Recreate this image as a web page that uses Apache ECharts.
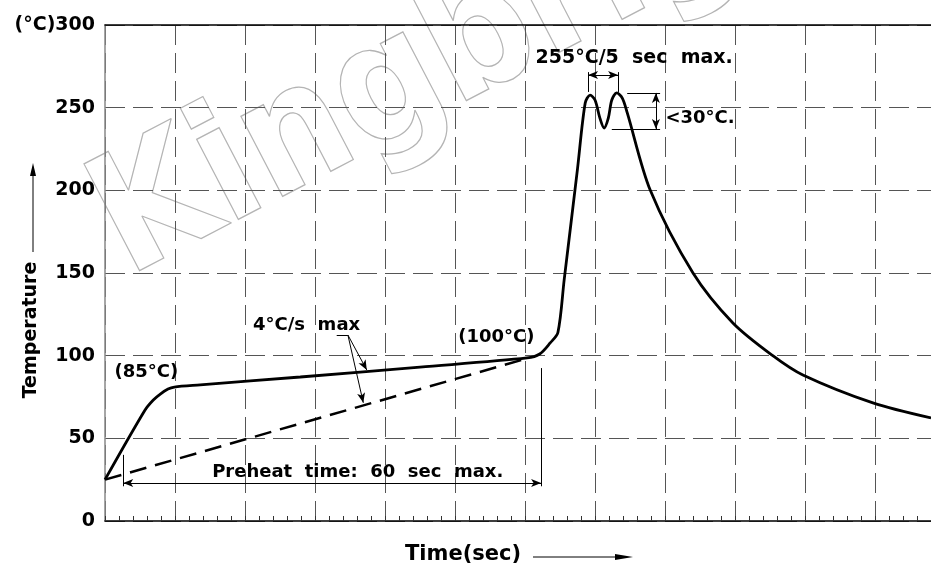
<!DOCTYPE html>
<html>
<head>
<meta charset="utf-8">
<script src="https://cdn.jsdelivr.net/npm/echarts@6/dist/echarts.min.js"></script>
<style>
  html, body { margin: 0; padding: 0; background: #fff; }
  #chart { width: 931px; height: 567px; }
</style>
</head>
<body>
<div id="chart"></div>
<script>
// Reflow profile (time in seconds, temperature in °C)
const profileTime = [0, 5.7, 6.9, 7.9, 9.0, 9.9, 13.6, 27.9, 45, 60.3, 62.1, 63.6, 64.7, 65.6, 67.5, 68.6, 69.3, 70.0, 70.7, 71.3, 71.9, 72.4, 73.1, 73.9, 74.6, 77.9, 84, 89.7, 95.4, 99.7, 109.7, 118];
const profileTemp = [25, 67, 73.2, 76.8, 79.8, 81, 82.3, 87.1, 93.1, 98.6, 101, 107.7, 114, 146, 213, 252.8, 257.6, 254.6, 243.7, 237.7, 243.7, 254.6, 258.9, 255.8, 247, 200, 150, 119.8, 100, 88.3, 71.4, 62.3];

// 4°C/s max slope (dashed)
const slopeTime = [0, 60];
const slopeTemp = [25, 98];

const yTicks = [0, 50, 100, 150, 200, 250, 300];

// annotation segments: x1, y1, x2, y2, arrow at start, arrow at end
const noteSegments = [
  [2.6, 40, 2.6, 21, false, false],
  [62.3, 92.5, 62.3, 21, false, false],
  [2.6, 23, 62.3, 23, true, true],
  [33.1, 112.5, 34.7, 112.5, false, false],
  [34.7, 112.5, 37.4, 91.3, false, true],
  [34.7, 112.5, 36.9, 71.5, false, true],
  [69, 271.5, 69, 259.5, false, false],
  [73.3, 271.5, 73.3, 259.5, false, false],
  [69, 269.7, 73.3, 269.7, true, true],
  [74.6, 258.9, 79.3, 258.9, false, false],
  [72.4, 237.1, 79.3, 237.1, false, false],
  [78.7, 258.9, 78.7, 237.1, true, true]
];

// annotation texts and their anchor points
const noteTexts = ['(85°C)', '4°C/s  max', '(100°C)', 'Preheat  time:  60  sec  max.', '255°C/5  sec  max.', '<30°C.'];
const notePoints = [[5.9, 90.1], [28.8, 118.5], [55.9, 111.3], [36.1, 29.3], [75.6, 280.3], [85.0, 243.7]];
const noteSizes = [18, 18, 18, 18, 19, 18];

const FONT = 'DejaVu Sans';

const chart = echarts.init(document.getElementById('chart'));

const markLineData = noteSegments.map(s => [
  { coord: [s[0], s[1]], symbol: s[4] ? 'arrow' : 'none', symbolSize: [6, 10] },
  { coord: [s[2], s[3]], symbol: s[5] ? 'arrow' : 'none', symbolSize: [6, 10] }
]);

chart.setOption({
  animation: false,
  backgroundColor: '#fff',
  grid: { left: 105, right: 0, top: 25, bottom: 46 },
  xAxis: [
    {
      type: 'value',
      min: 0,
      max: 118,
      interval: 10,
      axisLine: { lineStyle: { color: '#000', width: 1.5 } },
      axisTick: { inside: true, length: 5, lineStyle: { color: '#333' } },
      minorTick: { show: true, splitNumber: 5, length: 5, lineStyle: { color: '#333' } },
      axisLabel: { show: false },
      splitLine: { show: true, lineStyle: { type: [20, 8], color: '#555', width: 1 } }
    },
    {
      type: 'value',
      position: 'top',
      min: 0,
      max: 118,
      axisLine: { show: true, lineStyle: { color: '#000', width: 1.5 } },
      axisTick: { show: false },
      axisLabel: { show: false },
      splitLine: { show: false }
    }
  ],
  yAxis: {
    type: 'value',
    min: 0,
    max: 300,
    interval: 50,
    axisLine: { show: true, lineStyle: { color: '#888', width: 1.5 } },
    axisTick: { show: false },
    axisLabel: {
      margin: 10,
      color: '#000',
      fontFamily: FONT,
      fontWeight: 'bold',
      fontSize: 19,
      formatter: v => (v === yTicks[yTicks.length - 1] ? '(°C)' + v : String(v))
    },
    splitLine: { show: true, lineStyle: { type: [20, 8], color: '#555', width: 1 } }
  },
  graphic: [
    {
      type: 'text',
      z: -10,
      x: 146,
      y: 312,
      rotation: 0.48,
      scaleX: 0.88,
      style: {
        text: 'Kingbright',
        font: 'bold 165px "DejaVu Sans"',
        fill: 'rgba(0,0,0,0)',
        stroke: '#b4b4b4',
        lineWidth: 1.3,
        verticalAlign: 'bottom'
      }
    },
    {
      type: 'text',
      x: 31,
      y: 330,
      rotation: Math.PI / 2,
      style: { text: 'Temperature', font: 'bold 19px "DejaVu Sans"', fill: '#000', align: 'center', verticalAlign: 'middle' }
    },
    { type: 'line', shape: { x1: 33, y1: 252, x2: 33, y2: 172 }, style: { stroke: '#000', lineWidth: 1 } },
    { type: 'polygon', shape: { points: [[30, 176], [36, 176], [33, 163]] }, style: { fill: '#000' } },
    {
      type: 'text',
      x: 463,
      y: 555,
      style: { text: 'Time(sec)', font: 'bold 21px "DejaVu Sans"', fill: '#000', align: 'center', verticalAlign: 'middle' }
    },
    { type: 'line', shape: { x1: 533, y1: 557, x2: 620, y2: 557 }, style: { stroke: '#000', lineWidth: 1 } },
    { type: 'polygon', shape: { points: [[615, 554], [615, 560], [633, 557]] }, style: { fill: '#000' } }
  ],
  series: [
    {
      name: 'Profile',
      type: 'line',
      data: profileTime.map((t, i) => [t, profileTemp[i]]),
      symbol: 'none',
      smooth: 0.3,
      lineStyle: { color: '#000', width: 2.8 },
      z: 5
    },
    {
      name: 'Max slope',
      type: 'line',
      data: slopeTime.map((t, i) => [t, slopeTemp[i]]),
      symbol: 'none',
      lineStyle: { color: '#000', width: 2.5, type: [17, 9] },
      markLine: {
        silent: true,
        symbol: 'none',
        label: { show: false },
        lineStyle: { color: '#000', width: 1, type: 'solid' },
        data: markLineData
      },
      z: 4
    },
    {
      name: 'Notes',
      type: 'scatter',
      symbolSize: 0,
      itemStyle: { opacity: 1 },
      data: notePoints.map((p, i) => ({
        value: p,
        name: noteTexts[i],
        label: { fontSize: noteSizes[i] }
      })),
      label: {
        show: true,
        position: 'inside',
        formatter: p => p.name,
        color: '#000',
        opacity: 1,
        fontFamily: FONT,
        fontWeight: 'bold',
        fontSize: 18
      },
      z: 6
    }
  ]
});

window.addEventListener('resize', () => chart.resize());
</script>
</body>
</html>
